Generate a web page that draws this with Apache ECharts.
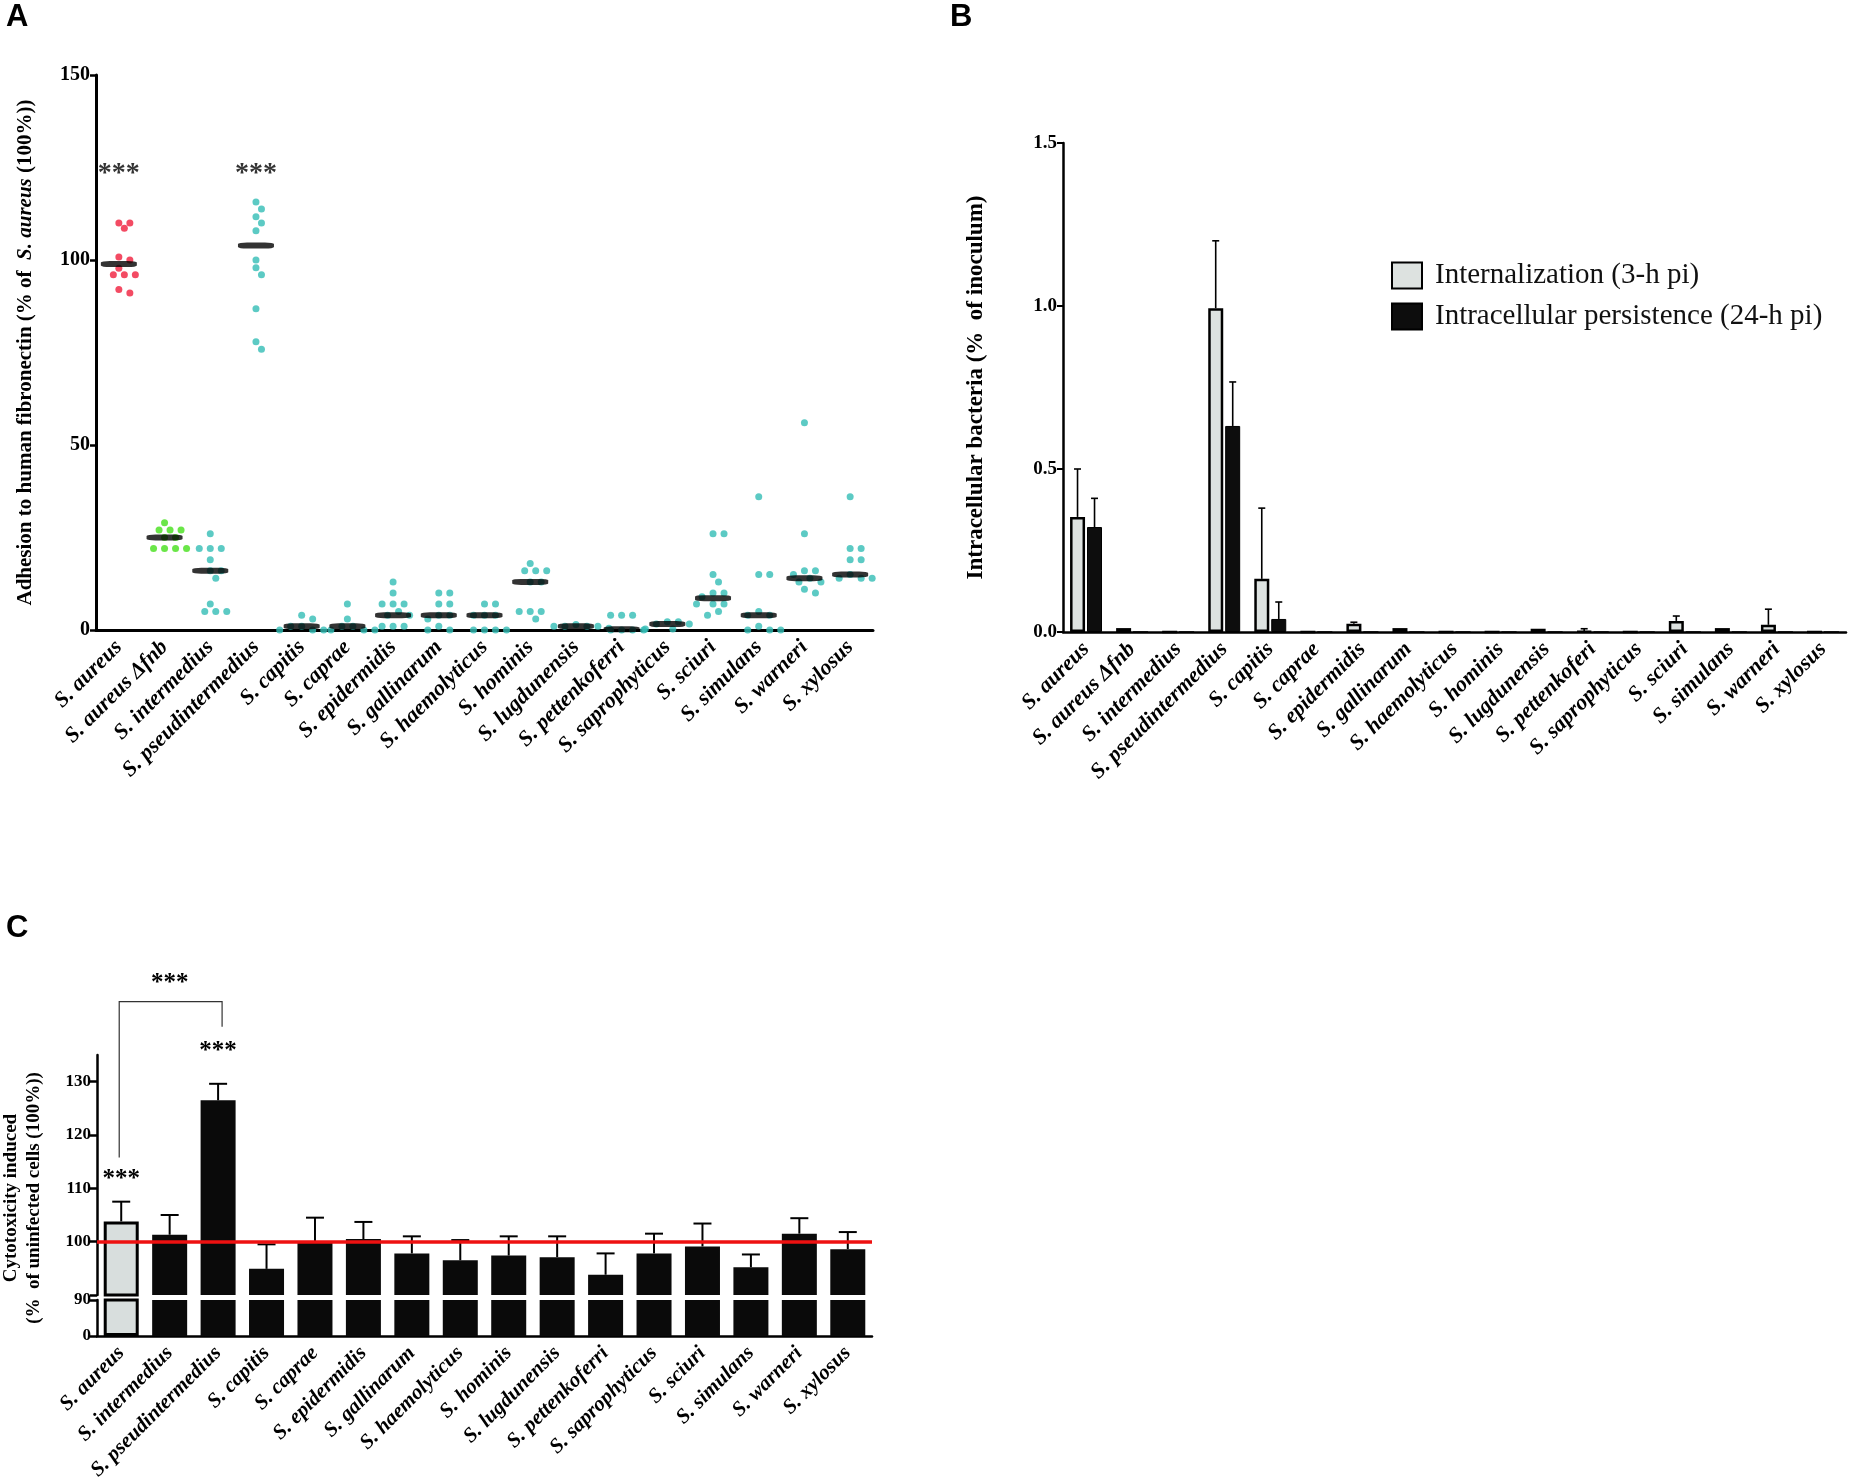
<!DOCTYPE html>
<html>
<head>
<meta charset="utf-8">
<script src="https://cdn.jsdelivr.net/npm/echarts@6.0.0/dist/echarts.min.js"></script>
<style>
html,body{margin:0;padding:0;background:#fff;}
#main{width:1850px;height:1477px;}
</style>
</head>
<body>
<div id="main"></div>
<script>
// 分类
const aCategories = ['S. aureus','S. aureus Δfnb','S. intermedius','S. pseudintermedius','S. capitis','S. caprae','S. epidermidis','S. gallinarum','S. haemolyticus','S. hominis','S. lugdunensis','S. pettenkoferri','S. saprophyticus','S. sciuri','S. simulans','S. warneri','S. xylosus'];
const bCategories = ['S. aureus','S. aureus Δfnb','S. intermedius','S. pseudintermedius','S. capitis','S. caprae','S. epidermidis','S. gallinarum','S. haemolyticus','S. hominis','S. lugdunensis','S. pettenkoferi','S. saprophyticus','S. sciuri','S. simulans','S. warneri','S. xylosus'];
const cCategories = ['S. aureus','S. intermedius','S. pseudintermedius','S. capitis','S. caprae','S. epidermidis','S. gallinarum','S. haemolyticus','S. hominis','S. lugdunensis','S. pettenkoferri','S. saprophyticus','S. sciuri','S. simulans','S. warneri','S. xylosus'];

// A: 纤连蛋白黏附 (每株的散点)
const aAureus        = [110, 110, 108.6, 100.8, 100, 97.8, 96, 96, 96, 92, 91.1];
const aAureusFnb     = [29, 27, 27, 27, 25, 25, 22, 22, 22, 22];
const aIntermedius   = [26, 22, 22, 22, 19, 16, 16, 14, 7, 5, 5, 5];
const aPseud         = [115.7, 113.8, 111.7, 110, 107.9, 100, 97.9, 96, 86.8, 77.9, 75.9];
const aCapitis       = [4, 3, 1, 1, 0, 0, 0];
const aCaprae        = [7, 3, 1, 1, 0, 0, 0];
const aEpidermidis   = [13, 10, 7, 7, 7, 5, 4, 4, 1, 1, 1];
const aGallinarum    = [10, 10, 7, 7, 4, 4, 3, 1, 0, 0];
const aHaemolyticus  = [7, 7, 4, 4, 4, 0, 0, 0, 0];
const aHominis       = [18, 16, 16, 16, 13, 13, 5, 5, 5, 3];
const aLugdunensis   = [1.5, 1, 1, 1, 1, 0.5];
const aPettenkoferi  = [4, 4, 4, 0, 0, 0, 0];
const aSaprophyticus = [2.2, 2.2, 1.6, 1.6, 0.3, 0.3];
const aSciuri        = [26, 26, 15, 13, 10, 10, 9, 7, 7, 7, 5, 4];
const aSimulans      = [36, 15, 15, 5, 4, 4, 1, 0, 0, 0];
const aWarneri       = [56, 26, 16, 16, 15, 14, 13, 13, 11, 10];
const aXylosus       = [36, 22, 22, 19, 19, 15, 14, 14, 14];
const aPoints  = [aAureus, aAureusFnb, aIntermedius, aPseud, aCapitis, aCaprae, aEpidermidis, aGallinarum, aHaemolyticus, aHominis, aLugdunensis, aPettenkoferi, aSaprophyticus, aSciuri, aSimulans, aWarneri, aXylosus];
const aMedians = [98.9, 25, 16, 103.9, 1, 1, 4, 4, 4, 13, 1, 0.2, 1.6, 8.6, 4, 14, 15];
const aSigCats  = [0, 3];
const aSigLevel = 125;
const aTicks = [0, 50, 100, 150];

// B: 胞内细菌
const bInternal     = [0.353, 0.012, 0, 0.993, 0.163, 0, 0.025, 0.012, 0, 0, 0.01, 0.002, 0, 0.034, 0.012, 0.022, 0];
const bInternalErr  = [0.50, null, null, 1.20, 0.38, null, 0.03, null, null, null, null, 0.01, null, 0.049, null, 0.07, null];
const bPersist      = [0.322, 0, 0, 0.632, 0.04, 0, 0, 0, 0, 0, 0, 0, 0, 0, 0, 0, 0];
const bPersistErr   = [0.41, null, null, 0.767, 0.092, null, null, null, null, null, null, null, null, null, null, null, null];
const bTicks = [0, 0.5, 1.0, 1.5];

// C: 细胞毒性
const cValues = [103.8, 101.3, 126.5, 94.9, 99.8, 100.5, 97.8, 96.5, 97.4, 97.1, 93.8, 97.8, 99.1, 95.2, 101.5, 98.6];
const cErrTop = [107.5, 105.0, 129.6, 99.5, 104.5, 103.7, 101.0, 100.3, 101.0, 101.0, 97.8, 101.5, 103.4, 97.6, 104.4, 101.8];
const cTicksUpper = [100, 110, 120, 130];
const cTicksLower = [0, 90];
const cBaseline = 100;
// 显著性标注: [类别, 数值]
const cStars   = [[0, 112.8], [2, 136.8], [1, 149.5]];
const cBracket = [0, 2, 115.8, 145.0, 140.3];   // 左类别, 右类别, 左端, 顶部, 右端

const SERIF = '"Liberation Serif", "Times New Roman", serif';
const dotColors = ['#f01e3c', '#45e01a'];
const teal = '#33bdb5';

// 简单蜂群布局: 点不重叠时尽量靠中间
function swarm(values, pxPerUnit, minDist, step){
    let order = values.map((v,i)=>i).sort((a,b)=>values[b]-values[a]);
    let placed = [];
    let offsets = new Array(values.length).fill(0);
    order.forEach(idx=>{
        let y = values[idx]*pxPerUnit;
        for(let k=0; k<30; k++){
            let dx = (k%2 === 1 ? 1 : -1) * Math.ceil(k/2) * step;
            if(placed.every(p=>Math.hypot(p[0]-dx, p[1]-y) >= minDist)){
                placed.push([dx, y]);
                offsets[idx] = dx;
                break;
            }
        }
    });
    return offsets;
}

let aDots = [];
aPoints.forEach((vals,ci)=>{
    let offs = swarm(vals, 3.7, 7.5, 5.5);
    vals.forEach((v,k)=>{
        aDots.push({value:[ci, v], symbolOffset:[offs[k], 0], itemStyle:{color: dotColors[ci] || teal}});
    });
});

/**
 *  误差线 (只画上半部分)
 *  @param { Number } offset  相对类别中心的水平偏移
 *  @param { Number } capHalf 横帽半宽
 *  @param { Number } lw      线宽
 */
function errorBar(offset, capHalf, lw){
    return function(params, api){
        let p0 = api.coord([api.value(0), api.value(1)]);
        let p1 = api.coord([api.value(0), api.value(2)]);
        let cx = p0[0] + offset;
        return {type:'group', children:[
            {type:'line', shape:{x1:cx, y1:p0[1], x2:cx, y2:p1[1]}, style:{stroke:'#000', lineWidth:lw}},
            {type:'line', shape:{x1:cx-capHalf, y1:p1[1], x2:cx+capHalf, y2:p1[1]}, style:{stroke:'#000', lineWidth:lw}}
        ]};
    };
}
function errData(vals, errs){
    let out = [];
    errs.forEach((e,i)=>{ if(e != null) out.push([i, vals[i], e]); });
    return out;
}

const catLabel = (size)=>({
    interval:0, rotate:45, margin:14, color:'#000',
    fontFamily:SERIF, fontWeight:'bold', fontStyle:'italic', fontSize:size
});
const numLabel = (size)=>({color:'#000', fontFamily:SERIF, fontWeight:'bold', fontSize:size, margin:6});

let chart = echarts.init(document.getElementById('main'));
let cBarData = cValues.map((v,i)=> i === 0 ? {value:v, itemStyle:{color:'#d8dedd', borderColor:'#000', borderWidth:3}} : v);

let option = {
    animation:false,
    textStyle:{fontFamily:SERIF},
    graphic:[
        {type:'text', x:6, y:2, style:{text:'A', font:'bold 31px "Liberation Sans", Arial, sans-serif', fill:'#000'}},
        {type:'text', x:950, y:2, style:{text:'B', font:'bold 31px "Liberation Sans", Arial, sans-serif', fill:'#000'}},
        {type:'text', x:6, y:913, style:{text:'C', font:'bold 31px "Liberation Sans", Arial, sans-serif', fill:'#000'}},
        {type:'text', x:23, y:1198, rotation:Math.PI/2, style:{
            text:'Cytotoxicity induced\n(%  of uninfected cells (100%))',
            font:'bold 19px ' + SERIF, fill:'#000', align:'center', verticalAlign:'middle', lineHeight:23}}
    ],
    legend:{
        left:1386, top:256, orient:'vertical', itemWidth:30, itemHeight:26, itemGap:12, icon:'rect',
        data:['Internalization (3-h pi)', 'Intracellular persistence (24-h pi)'],
        textStyle:{fontFamily:'Liberation Serif', fontSize:29, color:'#111', padding:[0,0,0,8]}
    },
    grid:[
        {left:96, top:75, width:777, height:555, outerBoundsMode:'none'},
        {left:1063, top:143, width:783, height:489, outerBoundsMode:'none'},
        {left:97, top:1055, width:775, height:240, outerBoundsMode:'none'},
        {left:97, top:1300, width:775, height:36, outerBoundsMode:'none'}
    ],
    xAxis:[
        {gridIndex:0, type:'category', data:aCategories,
            axisLine:{lineStyle:{color:'#000', width:3}},
            axisTick:{alignWithLabel:true, length:7, lineStyle:{color:'#000', width:3}},
            axisLabel:catLabel(22)},
        {gridIndex:1, type:'category', data:bCategories,
            axisLine:{lineStyle:{color:'#000', width:2.5}},
            axisTick:{alignWithLabel:true, length:6, lineStyle:{color:'#000', width:2.5}},
            axisLabel:catLabel(22)},
        {gridIndex:2, type:'category', data:cCategories, show:false},
        {gridIndex:3, type:'category', data:cCategories,
            axisLine:{lineStyle:{color:'#000', width:2.5}},
            axisTick:{alignWithLabel:true, length:6, lineStyle:{color:'#000', width:2.5}},
            axisLabel:catLabel(21)}
    ],
    yAxis:[
        {gridIndex:0, type:'value', min:0, max:150, interval:50,
            axisLine:{show:true, lineStyle:{color:'#000', width:3}},
            axisTick:{show:true, length:6, lineStyle:{color:'#000', width:2.5}},
            splitLine:{show:false},
            axisLabel:Object.assign(numLabel(20), {customValues:aTicks}),
            name:'{b|Adhesion to human fibronectin (% of  }{bi|S. aureus}{b| (100%))}',
            nameLocation:'middle', nameGap:60,
            nameTextStyle:{rich:{
                b:{fontFamily:SERIF, fontWeight:'bold', fontSize:21, color:'#000'},
                bi:{fontFamily:SERIF, fontWeight:'bold', fontStyle:'italic', fontSize:21, color:'#000'}
            }}},
        {gridIndex:1, type:'value', min:0, max:1.5, interval:0.5,
            axisLine:{show:true, lineStyle:{color:'#000', width:2.5}},
            axisTick:{show:true, length:6, lineStyle:{color:'#000', width:2}},
            splitLine:{show:false},
            axisLabel:Object.assign(numLabel(19), {customValues:bTicks, formatter:(v)=>v.toFixed(1)}),
            name:'Intracellular bacteria (%  of inoculum)',
            nameLocation:'middle', nameGap:75,
            nameTextStyle:{fontFamily:SERIF, fontWeight:'bold', fontSize:23, color:'#000'}},
        {gridIndex:2, type:'value', min:90, max:135,
            axisLine:{show:true, lineStyle:{color:'#000', width:2.5}},
            axisTick:{show:true, length:7, customValues:[90].concat(cTicksUpper), lineStyle:{color:'#000', width:2.5}},
            splitLine:{show:false},
            axisLabel:Object.assign(numLabel(17), {customValues:cTicksUpper})},
        {gridIndex:3, type:'value', min:0, max:90,
            axisLine:{show:true, lineStyle:{color:'#000', width:2.5}},
            axisTick:{show:true, length:7, customValues:cTicksLower, lineStyle:{color:'#000', width:2.5}},
            splitLine:{show:false},
            axisLabel:Object.assign(numLabel(17), {customValues:cTicksLower})}
    ],
    series:[
        // A 散点
        {type:'scatter', xAxisIndex:0, yAxisIndex:0, symbolSize:7, data:aDots, z:3},
        // A 中位线
        {type:'scatter', xAxisIndex:0, yAxisIndex:0, symbol:'roundRect', symbolSize:[36,6],
            itemStyle:{color:'#000'}, data:aMedians.map((v,i)=>[i,v]), z:4},
        // A 显著性
        {type:'scatter', xAxisIndex:0, yAxisIndex:0, symbolSize:0, data:aSigCats.map(i=>[i,aSigLevel]),
            label:{show:true, position:'inside', offset:[0,6], formatter:'***', fontFamily:SERIF, fontWeight:'bold', fontSize:28, color:'#000'}},
        // B 柱状
        {type:'bar', name:'Internalization (3-h pi)', xAxisIndex:1, yAxisIndex:1, data:bInternal,
            barWidth:15, barGap:'13%', itemStyle:{color:'#dde2e0', borderColor:'#000', borderWidth:2.5}},
        {type:'bar', name:'Intracellular persistence (24-h pi)', xAxisIndex:1, yAxisIndex:1, data:bPersist,
            barWidth:15, barGap:'13%', itemStyle:{color:'#0d0d0d', borderColor:'#000', borderWidth:1}},
        {type:'custom', xAxisIndex:1, yAxisIndex:1, renderItem:errorBar(-8.5, 3.5, 1.6), data:errData(bInternal, bInternalErr), z:3},
        {type:'custom', xAxisIndex:1, yAxisIndex:1, renderItem:errorBar(8.5, 3.5, 1.6), data:errData(bPersist, bPersistErr), z:3},
        // C 上段
        {type:'bar', xAxisIndex:2, yAxisIndex:2, data:cBarData, barWidth:35,
            itemStyle:{color:'#0a0a0a'},
            markLine:{silent:true, symbol:'none', label:{show:false},
                lineStyle:{color:'#ee1111', width:3.5, type:'solid'}, data:[{yAxis:cBaseline}]}},
        {type:'custom', xAxisIndex:2, yAxisIndex:2, renderItem:errorBar(0, 9, 2), data:errData(cValues, cErrTop), z:1},
        // C 下段
        {type:'bar', xAxisIndex:3, yAxisIndex:3, data:cBarData, barWidth:35, itemStyle:{color:'#0a0a0a'}},
        // C 显著性括号与星号
        {type:'custom', xAxisIndex:2, yAxisIndex:2, clip:false, data:[cBracket],
            renderItem:function(params, api){
                let pl = api.coord([api.value(0), api.value(2)]);
                let pt = api.coord([api.value(0), api.value(3)]);
                let pr = api.coord([api.value(1), api.value(4)]);
                return {type:'polyline', shape:{points:[[pl[0]-2,pl[1]],[pt[0]-2,pt[1]],[pr[0]+4,pt[1]],[pr[0]+4,pr[1]]]},
                    style:{stroke:'#333', lineWidth:1.2, fill:null}};
            }},
        {type:'custom', xAxisIndex:2, yAxisIndex:2, clip:false, data:cStars,
            renderItem:function(params, api){
                let p = api.coord([api.value(0), api.value(1)]);
                return {type:'text', x:p[0], y:p[1] + 6, style:{text:'***', font:'bold 25px ' + SERIF, fill:'#000', align:'center', verticalAlign:'middle'}};
            }}
    ]
};
chart.setOption(option);
</script>
</body>
</html>
